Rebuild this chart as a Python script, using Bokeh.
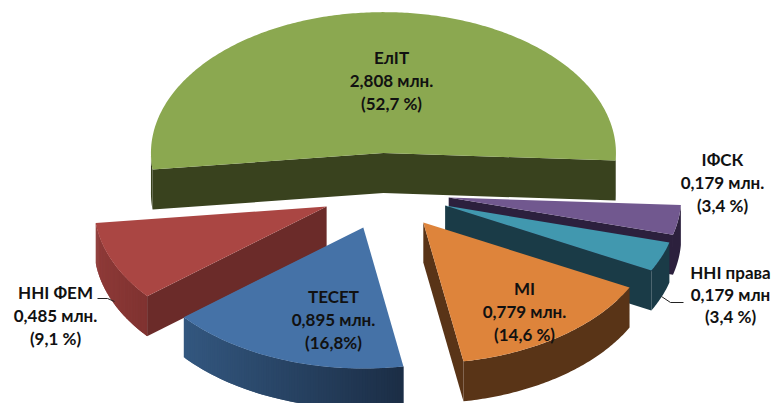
import numpy as np
from bokeh.plotting import figure
from bokeh.models import Range1d
from bokeh.core.properties import value
from bokeh.embed import file_html
from bokeh.resources import INLINE

# --- data (clockwise, starting at the green slice's left edge) ---
names = ["ЕлІТ", "ІФСК", "ННІ права", "МІ", "ТЕСЕТ", "ННІ ФЕМ"]
amounts = [2.808, 0.179, 0.179, 0.779, 0.895, 0.485]
shares = [52.7, 3.4, 3.4, 14.6, 16.8, 9.1]
amount_labels = ["2,808 млн.", "0,179 млн.", "0,179 млн", "0,779 млн.", "0,895 млн.", "0,485 млн."]
share_labels = ["(52,7 %)", "(3,4 %)", "(3,4 %)", "(14,6 %)", "(16,8%)", "(9,1 %)"]

# --- styles and layout ---
top_colors = ["#8BA850", "#71588F", "#4198AF", "#DE843B", "#4572A7", "#AA4643"]
wall_colors = ["#39421E", "#2C203D", "#1A3B47", "#593417", "#6B2B29", "#6B2B29"]
outer_from = ["#39421E", "#2C203D", "#1A3B47", "#593417", "#33577F", "#8E3A38"]
outer_to = ["#39421E", "#2C203D", "#1A3B47", "#593417", "#1B2D45", "#7F3230"]
draw_order = [0, 1, 2, 3, 5, 4]
CX, CY, RX, RY, EXPLODE, DEPTH = 385.0, 191.0, 232.5, 141.0, 64.0, 40.0
START_DEG = 186.7
label_xy = [(391, 57), (722, 159), (730, 272), (524, 288), (333, 296), (55, 292)]
LINE_GAP = [23, 23, 22, 23, 23, 23]
leaders = [([97, 107, 114], [298, 298, 301]), ([661, 670, 683], [296, 302, 302])]


def hex_mix(a, b, t):
    ca = [int(a[i:i + 2], 16) for i in (1, 3, 5)]
    cb = [int(b[i:i + 2], 16) for i in (1, 3, 5)]
    return "#%02x%02x%02x" % tuple(round(x + (y - x) * t) for x, y in zip(ca, cb))


p = figure(width=773, height=403, output_backend="svg", toolbar_location=None,
           x_range=Range1d(0, 773), y_range=Range1d(403, 0),
           min_border=0)
p.axis.visible = False
p.grid.visible = False
p.outline_line_color = None
p.background_fill_color = "white"
p.border_fill_color = "white"

total = sum(shares)
edges = [START_DEG]
for s in shares:
    edges.append(edges[-1] - 360.0 * s / total)

for i in draw_order:
    a, b = edges[i], edges[i + 1]
    mid = np.radians((a + b) / 2)
    ax = CX + EXPLODE * np.cos(mid)
    ay = CY - EXPLODE * 0.6 * np.sin(mid)
    th = np.radians(np.linspace(a, b, max(8, int(abs(a - b) * 1.5))))
    arc_x = ax + RX * np.cos(th)
    arc_y = ay - RY * np.sin(th)

    # outer wall: strips overlap so no seams show through
    idx = np.where(np.sin(th) < 0.02)[0]
    if len(idx) > 1:
        lo, span = arc_x[idx].min(), arc_x[idx].max() - arc_x[idx].min()
        for grp in np.split(idx, np.where(np.diff(idx) != 1)[0] + 1):
            if len(grp) < 2:
                continue
            if outer_from[i] == outer_to[i]:
                gx, gy = arc_x[grp], arc_y[grp]
                p.patch(np.r_[gx, gx[::-1]], np.r_[gy, gy[::-1] + DEPTH],
                        fill_color=outer_from[i], line_color=None)
            else:
                order = grp[np.argsort(arc_x[grp])]
                for j in range(len(order) - 1):
                    j0, j1 = order[j], order[min(j + 2, len(order) - 1)]
                    c = hex_mix(outer_from[i], outer_to[i], (arc_x[j0] - lo) / span)
                    p.patch([arc_x[j0], arc_x[j1], arc_x[j1], arc_x[j0]],
                            [arc_y[j0], arc_y[j1], arc_y[j1] + DEPTH, arc_y[j0] + DEPTH],
                            fill_color=c, line_color=None)

    # radial inner walls that face the viewer
    rad = []
    if np.cos(np.radians(a)) < 0:
        rad.append(a)
    if np.cos(np.radians(b)) > 0:
        rad.append(b)
    if rad:
        ex = [ax + RX * np.cos(np.radians(d)) for d in rad]
        ey = [ay - RY * np.sin(np.radians(d)) for d in rad]
        if len(rad) == 2:
            px = [ex[0], ax, ex[1], ex[1], ax, ex[0]]
            py = [ey[0], ay, ey[1], ey[1] + DEPTH, ay + DEPTH, ey[0] + DEPTH]
        else:
            px = [ax, ex[0], ex[0], ax]
            py = [ay, ey[0], ey[0] + DEPTH, ay + DEPTH]
        p.patch(px, py, fill_color=wall_colors[i], line_color=None)

    # top surface
    p.patch(np.r_[ax, arc_x], np.r_[ay, arc_y], fill_color=top_colors[i], line_color=None)

for lx, ly in leaders:
    p.line(lx, ly, line_color="#222222", line_width=1)

tx, ty, tt = [], [], []
for i, (x, y) in enumerate(label_xy):
    for k, s in enumerate((names[i], amount_labels[i], share_labels[i])):
        tx.append(x)
        ty.append(y + k * LINE_GAP[i])
        tt.append(s)
p.text(tx, ty, text=tt, text_font=value("Lato"), text_font_size="17px",
       text_font_style="bold", text_color="#111111", text_align="center",
       text_baseline="middle")

open("out.html", "w").write(file_html(p, INLINE))
